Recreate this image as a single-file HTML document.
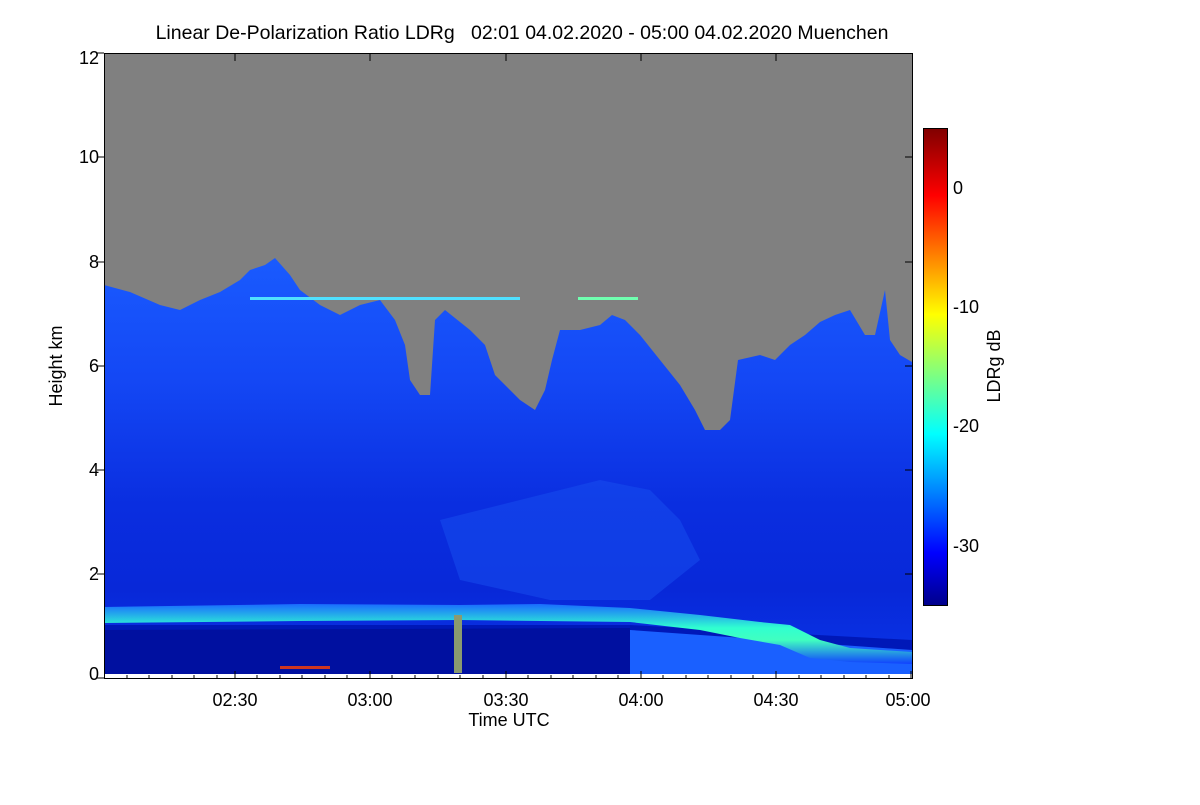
<!DOCTYPE html>
<html><head><meta charset="utf-8"><style>
body{margin:0;background:#fff;}
text{font-family:"Liberation Sans",sans-serif;fill:#000;white-space:pre;}
</style></head><body>
<svg width="1200" height="800" xmlns="http://www.w3.org/2000/svg">
<defs>
<linearGradient id="cb" x1="0" y1="1" x2="0" y2="0">
<stop offset="0" stop-color="#00008a"/>
<stop offset="0.11" stop-color="#0000ff"/>
<stop offset="0.36" stop-color="#00ffff"/>
<stop offset="0.61" stop-color="#ffff00"/>
<stop offset="0.86" stop-color="#ff0000"/>
<stop offset="1" stop-color="#800000"/>
</linearGradient>
<linearGradient id="bl" x1="0" y1="250" x2="0" y2="674" gradientUnits="userSpaceOnUse">
<stop offset="0" stop-color="#1a5cff"/>
<stop offset="0.3" stop-color="#1448f5"/>
<stop offset="0.6" stop-color="#0a2ee0"/>
<stop offset="0.8" stop-color="#0828d8"/>
<stop offset="1" stop-color="#0a35e8"/>
</linearGradient>
<linearGradient id="band" x1="0" y1="0" x2="0" y2="1">
<stop offset="0" stop-color="#1a6cff"/>
<stop offset="0.4" stop-color="#30ffd0"/>
<stop offset="0.6" stop-color="#40ffc0"/>
<stop offset="1" stop-color="#1040ff"/>
</linearGradient>
</defs>
<text x="522" y="39" font-size="19.5" text-anchor="middle">Linear De-Polarization Ratio LDRg   02:01 04.02.2020 - 05:00 04.02.2020 Muenchen</text>
<rect x="104" y="53" width="808" height="621" fill="#808080"/>
<polygon fill="url(#bl)" points="104,285 130,292 160,305 180,310 200,300 220,292 240,280 250,270 265,265 275,258 290,275 300,290 320,305 340,315 360,305 380,300 395,320 405,345 410,380 420,395 430,395 435,320 445,310 455,318 470,330 485,345 495,375 505,385 520,400 535,410 545,390 552,360 560,330 580,330 600,325 612,315 625,320 640,335 660,360 680,385 695,410 705,430 720,430 730,420 738,360 760,355 775,360 790,345 805,335 820,322 835,315 850,310 865,335 875,335 885,290 890,340 900,355 912,362 912,674 104,674"/>
<polygon fill="#1850f0" opacity="0.5" points="440,520 520,500 600,480 650,490 680,520 700,560 650,600 550,600 460,580"/>
<polygon fill="#0018b8" points="104,625 630,625 912,640 912,674 104,674"/>
<polygon fill="#0010a0" points="104,630 630,628 630,674 104,674"/>
<polygon fill="#1a60ff" points="630,630 912,650 912,674 630,674"/>
<polygon fill="url(#band)" points="104,607 300,604 460,605 540,604 630,608 700,615 760,622 790,625 820,640 850,648 912,652 912,664 850,662 810,658 780,645 740,638 700,630 630,622 460,620 300,621 104,623"/>
<rect x="454" y="615" width="8" height="58" fill="#8a9a70"/>
<rect x="280" y="666" width="50" height="3" fill="#ff4000" opacity="0.8"/>
<rect x="250" y="297" width="270" height="3" fill="#50e0ff"/>
<rect x="578" y="297" width="60" height="3" fill="#70ffb0"/>
<rect x="104" y="674" width="808" height="5" fill="#fff"/>
<g stroke="#000" stroke-width="1" fill="none">
<rect x="104.5" y="53.5" width="808" height="625"/>
</g>
<g stroke="#000" stroke-width="1">
<line x1="104" y1="678" x2="97" y2="678"/><line x1="104" y1="574" x2="97" y2="574"/><line x1="104" y1="470" x2="97" y2="470"/><line x1="104" y1="366" x2="97" y2="366"/><line x1="104" y1="262" x2="97" y2="262"/><line x1="104" y1="157" x2="97" y2="157"/><line x1="104" y1="53" x2="97" y2="53"/>
<line x1="912" y1="574" x2="905" y2="574"/><line x1="912" y1="470" x2="905" y2="470"/><line x1="912" y1="366" x2="905" y2="366"/><line x1="912" y1="262" x2="905" y2="262"/><line x1="912" y1="157" x2="905" y2="157"/>
<line x1="235" y1="679" x2="235" y2="671"/><line x1="370" y1="679" x2="370" y2="671"/><line x1="506" y1="679" x2="506" y2="671"/><line x1="641" y1="679" x2="641" y2="671"/><line x1="776" y1="679" x2="776" y2="671"/><line x1="911" y1="679" x2="911" y2="671"/>
<line x1="235" y1="53" x2="235" y2="61"/><line x1="370" y1="53" x2="370" y2="61"/><line x1="506" y1="53" x2="506" y2="61"/><line x1="641" y1="53" x2="641" y2="61"/><line x1="776" y1="53" x2="776" y2="61"/>
</g>
<g stroke="#000" stroke-width="1">
<line x1="127" y1="679" x2="127" y2="675"/><line x1="149" y1="679" x2="149" y2="675"/><line x1="172" y1="679" x2="172" y2="675"/><line x1="194" y1="679" x2="194" y2="675"/><line x1="217" y1="679" x2="217" y2="675"/>
<line x1="257" y1="679" x2="257" y2="675"/><line x1="280" y1="679" x2="280" y2="675"/><line x1="302" y1="679" x2="302" y2="675"/><line x1="325" y1="679" x2="325" y2="675"/><line x1="347" y1="679" x2="347" y2="675"/>
<line x1="392" y1="679" x2="392" y2="675"/><line x1="415" y1="679" x2="415" y2="675"/><line x1="438" y1="679" x2="438" y2="675"/><line x1="460" y1="679" x2="460" y2="675"/><line x1="483" y1="679" x2="483" y2="675"/>
<line x1="528" y1="679" x2="528" y2="675"/><line x1="551" y1="679" x2="551" y2="675"/><line x1="573" y1="679" x2="573" y2="675"/><line x1="596" y1="679" x2="596" y2="675"/><line x1="618" y1="679" x2="618" y2="675"/>
<line x1="663" y1="679" x2="663" y2="675"/><line x1="686" y1="679" x2="686" y2="675"/><line x1="708" y1="679" x2="708" y2="675"/><line x1="731" y1="679" x2="731" y2="675"/><line x1="753" y1="679" x2="753" y2="675"/>
<line x1="799" y1="679" x2="799" y2="675"/><line x1="821" y1="679" x2="821" y2="675"/><line x1="844" y1="679" x2="844" y2="675"/><line x1="866" y1="679" x2="866" y2="675"/><line x1="889" y1="679" x2="889" y2="675"/>
</g>
<g font-size="18" text-anchor="end">
<text x="99" y="680">0</text><text x="99" y="580">2</text><text x="99" y="476">4</text><text x="99" y="372">6</text><text x="99" y="268">8</text><text x="99" y="163">10</text><text x="99" y="64">12</text>
</g>
<g font-size="18" text-anchor="middle">
<text x="235" y="706">02:30</text><text x="370" y="706">03:00</text><text x="506" y="706">03:30</text><text x="641" y="706">04:00</text><text x="776" y="706">04:30</text><text x="908" y="706">05:00</text>
<text x="509" y="726">Time UTC</text>
</g>
<text transform="translate(62,366) rotate(-90)" font-size="18" text-anchor="middle">Height km</text>
<rect x="923.5" y="128.5" width="24" height="477" fill="url(#cb)" stroke="#000"/>
<g font-size="18">
<text x="953" y="194">0</text><text x="953" y="313">-10</text><text x="953" y="432">-20</text><text x="953" y="552">-30</text>
</g>
<text transform="translate(1000,366) rotate(-90)" font-size="18" text-anchor="middle">LDRg dB</text>
</svg>
</body></html>
